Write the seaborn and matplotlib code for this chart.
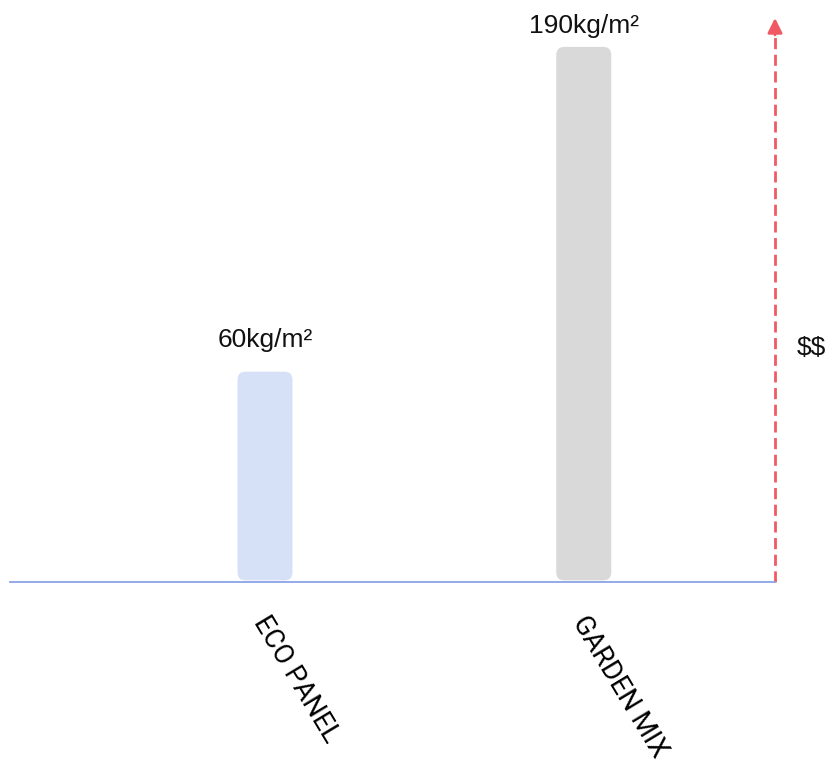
import matplotlib
matplotlib.use('Agg')
import matplotlib.pyplot as plt
from matplotlib.patches import FancyBboxPatch
from matplotlib.transforms import ScaledTranslation
import seaborn as sns
import pandas as pd

# data
categories = ['ECO PANEL', 'GARDEN MIX']
weights = [60, 190]              # kg/m2, shown above the bars
bar_height = [39.3, 100]         # relative bar heights as drawn
bar_colors = ['#d6e0f7', '#d9d9d9']

df = pd.DataFrame({'cat': categories, 'h': bar_height})

sns.set_style('white')
plt.rcParams['font.family'] = ['Liberation Sans', 'DejaVu Sans']

fig = plt.figure(figsize=(8.33, 7.66), dpi=100)
ax = fig.add_axes([10 / 833, 1 - 582 / 766, 765 / 833, 564 / 766])

bw = 0.1725
sns.barplot(data=df, x='cat', y='h', hue='cat', palette=bar_colors,
            width=bw, legend=False, saturation=1, ax=ax)
ax.set_xlim(-0.8, 1.6)
ax.set_ylim(0, 105.4)

# swap the square bars for rounded ones
for p in list(ax.patches):
    x0, y0 = p.get_x(), p.get_y()
    w, h = p.get_width(), p.get_height()
    fc = p.get_facecolor()
    p.remove()
    rb = FancyBboxPatch((x0, y0 + 0.3), w, h - 0.3,
                        boxstyle='round,pad=0,rounding_size=0.025',
                        mutation_aspect=60, fc=fc, ec='none')
    ax.add_patch(rb)

label_gap = [18, 10]
for i, (h, wt) in enumerate(zip(bar_height, weights)):
    ax.annotate(f'{wt}kg/m²', xy=(i, h), xytext=(0, label_gap[i]),
                textcoords='offset points', ha='center', va='baseline',
                fontsize=19, color='#111111')

# axes look
for s in ['top', 'right', 'left']:
    ax.spines[s].set_visible(False)
ax.spines['bottom'].set_color('#8aa4e6')
ax.spines['bottom'].set_linewidth(1.3)
ax.set_yticks([])
ax.set_xlabel('')
ax.set_ylabel('')
ax.tick_params(axis='x', length=0, pad=26)
ax.set_xticks(range(len(categories)))
ax.set_xticklabels(categories, rotation=-59, ha='left', va='center',
                   rotation_mode='anchor', fontsize=19.5,
                   family='Roboto', fontweight='normal', color='black')
shift = ScaledTranslation(-4 / 72, 0, fig.dpi_scale_trans)
for lbl in ax.get_xticklabels():
    lbl.set_transform(lbl.get_transform() + shift)

# dashed red arrow on the right
red = '#ef5a64'
ax.plot([1, 1], [0, 0.975], transform=ax.transAxes, clip_on=False,
        color=red, lw=2, ls=(0, (4, 2)))
ax.annotate('', xy=(1, 1.0), xycoords='axes fraction',
            xytext=(1, 0.97), textcoords='axes fraction',
            arrowprops=dict(arrowstyle='-|>', color=red, lw=2,
                            mutation_scale=22, shrinkA=0, shrinkB=0))
ax.text(1.029, 0.415, r'\$\$', transform=ax.transAxes, ha='left',
        va='center', fontsize=19, color='#111111')

fig.savefig('out.png', dpi=100)
